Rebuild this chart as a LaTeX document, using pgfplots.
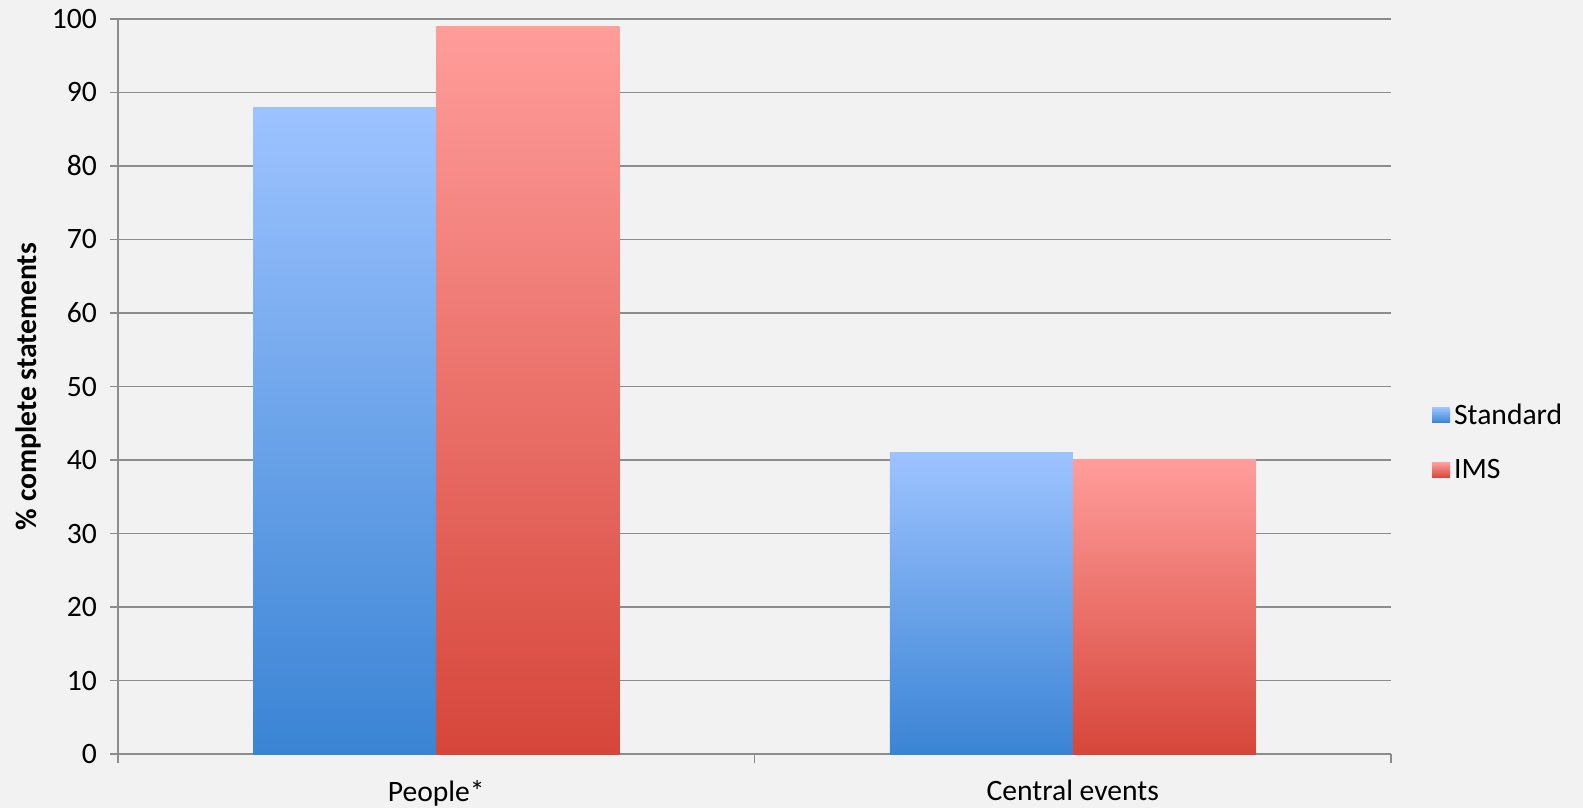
\documentclass[border=0pt]{standalone}
\usepackage{pgfplots}
\pgfplotsset{compat=1.18}
\usepackage{fontspec}
\setmainfont{Carlito}
\usetikzlibrary{backgrounds}
\definecolor{bg}{HTML}{F2F2F2}
\definecolor{gridc}{HTML}{8C8C8C}
\definecolor{bluetop}{HTML}{9DC3FF}
\definecolor{bluebot}{HTML}{3A84D4}
\definecolor{redtop}{HTML}{FF9D9B}
\definecolor{redbot}{HTML}{D6463A}
\begin{document}
\begin{tikzpicture}
\begin{axis}[
  scale only axis,
  width=636.5pt, height=367.5pt,
  at={(0,0)}, anchor=south west,
  xmin=-0.5, xmax=1.5,
  ymin=0, ymax=100,
  ytick={0,10,...,100},
  xtick={0,1},
  xticklabels={People*, Central events},
  minor xtick={-0.5,0.5,1.5},
  major x tick style={draw=none},
  minor tick length=4.5pt,
  major tick length=4pt,
  tick align=outside,
  axis x line*=bottom,
  axis y line*=left,
  axis line style={draw=gridc, line width=0.9pt, -},
  every tick/.style={draw=gridc, line width=0.9pt},
  ymajorgrids,
  grid style={draw=gridc, line width=0.8pt},
  ybar,
  bar width=0.2875,
  tick label style={font=\fontsize{14.8}{17}\selectfont},
  /pgf/number format/assume math mode=true,
  yticklabel style={xshift=-3pt},
  xticklabel style={yshift=-5.5pt},
  ylabel={\% complete statements},
  ylabel style={font=\fontsize{14.8}{17}\selectfont\bfseries, at={(axis description cs:-0.0707,0.5)}, anchor=center},
  legend style={at={(1.032,0.424)}, anchor=west, draw=none, fill=none,
    font=\fontsize{14.8}{17}\selectfont, row sep=12pt, inner sep=0pt},
  legend cell align=left,
]
\addplot[draw=none, bar shift=-0.14375, top color=bluetop, bottom color=bluebot,
  legend image code/.code={\fill[top color=bluetop, bottom color=bluebot] (0pt,-3.7pt) rectangle (9pt,3.7pt);}]
  coordinates {(0,88)};
\addplot[draw=none, bar shift=0.14375, top color=redtop, bottom color=redbot,
  legend image code/.code={\fill[top color=redtop, bottom color=redbot] (0pt,-3.7pt) rectangle (9pt,3.7pt);}]
  coordinates {(0,99)};
\addplot[draw=none, bar shift=-0.14375, top color=bluetop, bottom color=bluebot, forget plot]
  coordinates {(1,41)};
\addplot[draw=none, bar shift=0.14375, top color=redtop, bottom color=redbot, forget plot]
  coordinates {(1,40)};
\legend{Standard, IMS}
\end{axis}
\begin{pgfonlayer}{background}
\fill[bg] (-59pt,-27pt) rectangle (732.5pt,377pt);
\end{pgfonlayer}
\pgfresetboundingbox
\path (-59pt,-27pt) rectangle (732.5pt,377pt);
\end{tikzpicture}
\end{document}
